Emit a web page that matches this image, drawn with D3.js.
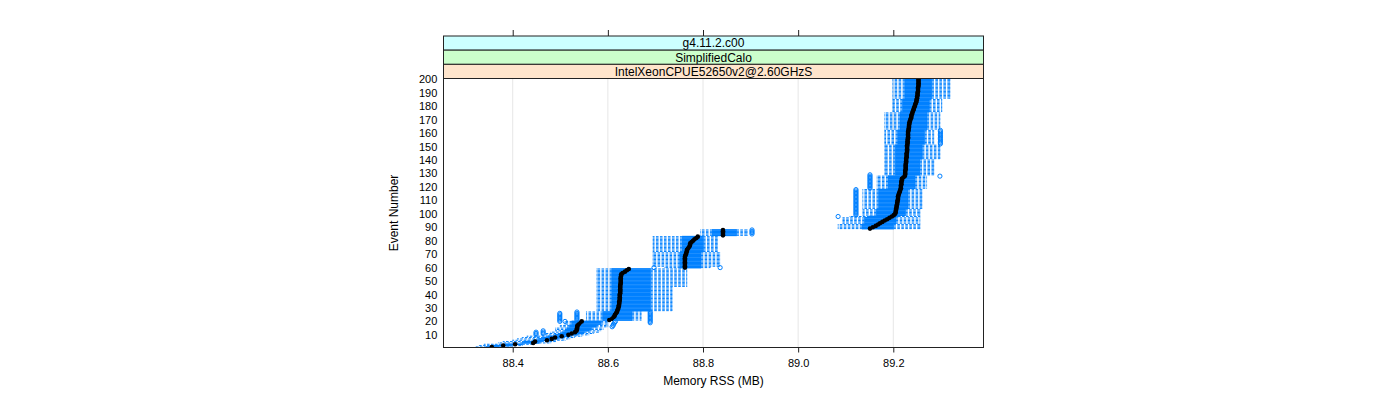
<!DOCTYPE html>
<html><head><meta charset="utf-8">
<script src="https://cdn.jsdelivr.net/npm/d3@7"></script>
<style>body{margin:0;background:#fff;} svg{display:block;font-family:"Liberation Sans",Arial,sans-serif;}</style>
</head><body><svg id="chart" width="1400" height="400"></svg>
<script>
// ---- data (Memory RSS in MB per event number 1..200) ----
const stripLabels = ["g4.11.2.c00", "SimplifiedCalo", "IntelXeonCPUE52650v2@2.60GHzS"];
const xTicks = [88.4, 88.6, 88.8, 89.0, 89.2];
const yTicks = [10,20,30,40,50,60,70,80,90,100,110,120,130,140,150,160,170,180,190,200];

const lowWhisker = [
88.323,88.330,88.340,88.370,88.380,88.400,88.410,88.420,88.430,88.460,
88.470,88.480,88.490,88.490,88.490,88.500,88.500,88.510,88.510,88.510,
88.555,88.555,88.555,88.555,88.555,88.555,88.555,88.577,88.577,88.577,
88.577,88.577,88.577,88.577,88.577,88.577,88.577,88.577,88.577,88.577,
88.577,88.577,88.577,88.577,88.577,88.577,88.577,88.577,88.577,88.577,
88.577,88.577,88.577,88.577,88.577,88.577,88.577,88.577,88.577,88.720,
88.695,88.695,88.695,88.695,88.695,88.695,88.695,88.695,88.695,88.695,
88.695,88.695,88.695,88.695,88.695,88.695,88.695,88.695,88.695,88.695,
88.695,88.695,88.695,88.795,88.795,88.795,88.795,88.795,89.084,89.084,
89.084,89.084,89.094,89.094,89.094,89.094,89.094,89.109,89.136,89.136,
89.136,89.136,89.136,89.136,89.136,89.136,89.136,89.136,89.136,89.136,
89.136,89.136,89.136,89.136,89.136,89.136,89.136,89.136,89.166,89.166,
89.166,89.166,89.166,89.166,89.166,89.166,89.166,89.166,89.182,89.182,
89.182,89.182,89.182,89.182,89.182,89.182,89.182,89.182,89.182,89.182,
89.182,89.182,89.182,89.182,89.182,89.182,89.182,89.182,89.182,89.182,
89.182,89.182,89.182,89.182,89.182,89.182,89.182,89.182,89.182,89.182,
89.182,89.182,89.182,89.182,89.182,89.182,89.182,89.182,89.182,89.182,
89.182,89.182,89.182,89.182,89.182,89.199,89.199,89.199,89.199,89.199,
89.199,89.199,89.199,89.199,89.199,89.199,89.199,89.199,89.199,89.199,
89.199,89.199,89.199,89.199,89.199,89.199,89.199,89.199,89.199,89.199];

const lowerQuartile = [
88.345,88.360,88.385,88.420,88.425,88.445,88.455,88.465,88.475,88.490,
88.500,88.505,88.510,88.515,88.515,88.520,88.520,88.525,88.525,88.525,
88.590,88.590,88.590,88.590,88.590,88.590,88.590,88.609,88.609,88.609,
88.609,88.609,88.609,88.609,88.609,88.609,88.609,88.609,88.609,88.609,
88.609,88.609,88.609,88.609,88.609,88.609,88.609,88.609,88.609,88.609,
88.609,88.609,88.609,88.609,88.609,88.609,88.609,88.609,88.609,88.752,
88.752,88.752,88.752,88.752,88.752,88.752,88.752,88.752,88.752,88.752,
88.752,88.757,88.757,88.757,88.757,88.757,88.757,88.757,88.757,88.757,
88.757,88.757,88.757,88.820,88.820,88.820,88.820,88.820,89.135,89.135,
89.135,89.135,89.140,89.140,89.140,89.140,89.140,89.150,89.165,89.165,
89.165,89.165,89.165,89.170,89.170,89.170,89.170,89.170,89.170,89.170,
89.170,89.170,89.170,89.170,89.170,89.170,89.170,89.170,89.190,89.190,
89.190,89.190,89.190,89.190,89.190,89.190,89.190,89.190,89.205,89.205,
89.205,89.205,89.205,89.205,89.205,89.205,89.205,89.205,89.205,89.205,
89.205,89.205,89.205,89.205,89.205,89.205,89.205,89.205,89.205,89.205,
89.205,89.210,89.210,89.210,89.210,89.210,89.210,89.210,89.210,89.210,
89.210,89.210,89.215,89.215,89.215,89.215,89.215,89.215,89.215,89.215,
89.215,89.215,89.215,89.215,89.215,89.220,89.220,89.220,89.220,89.220,
89.220,89.220,89.220,89.220,89.220,89.225,89.225,89.225,89.225,89.225,
89.225,89.225,89.225,89.225,89.225,89.225,89.225,89.225,89.225,89.225];

const medianRSS = [
88.356,88.380,88.405,88.443,88.447,88.472,88.482,88.489,88.503,88.517,
88.524,88.531,88.534,88.535,88.535,88.536,88.536,88.539,88.541,88.545,
88.603,88.609,88.612,88.614,88.615,88.617,88.619,88.620,88.621,88.622,
88.623,88.623,88.624,88.624,88.624,88.625,88.625,88.625,88.625,88.625,
88.626,88.626,88.626,88.626,88.626,88.626,88.626,88.627,88.627,88.627,
88.627,88.627,88.627,88.628,88.628,88.631,88.636,88.640,88.644,88.762,
88.762,88.762,88.762,88.762,88.762,88.762,88.762,88.762,88.763,88.764,
88.765,88.766,88.766,88.768,88.770,88.772,88.773,88.773,88.776,88.779,
88.782,88.786,88.789,88.842,88.842,88.842,88.842,88.842,89.151,89.157,
89.163,89.168,89.172,89.177,89.182,89.187,89.192,89.197,89.201,89.204,
89.205,89.205,89.206,89.206,89.207,89.207,89.208,89.208,89.209,89.209,
89.210,89.210,89.210,89.211,89.212,89.213,89.214,89.215,89.216,89.216,
89.216,89.217,89.217,89.217,89.218,89.218,89.221,89.224,89.225,89.225,
89.225,89.225,89.226,89.226,89.226,89.226,89.226,89.227,89.227,89.227,
89.227,89.228,89.228,89.228,89.228,89.229,89.229,89.229,89.229,89.229,
89.229,89.230,89.230,89.230,89.230,89.231,89.231,89.231,89.231,89.231,
89.231,89.232,89.232,89.233,89.233,89.233,89.234,89.234,89.235,89.236,
89.237,89.238,89.238,89.239,89.240,89.241,89.242,89.243,89.244,89.245,
89.246,89.247,89.248,89.249,89.249,89.250,89.250,89.251,89.251,89.251,
89.252,89.252,89.252,89.252,89.253,89.253,89.253,89.253,89.253,89.253];

const upperQuartile = [
88.370,88.395,88.420,88.455,88.460,88.485,88.495,88.505,88.520,88.535,
88.545,88.550,88.560,88.565,88.565,88.575,88.575,88.585,88.585,88.585,
88.650,88.650,88.650,88.650,88.650,88.650,88.650,88.689,88.689,88.689,
88.689,88.689,88.689,88.689,88.689,88.689,88.689,88.689,88.689,88.689,
88.689,88.689,88.689,88.689,88.689,88.689,88.689,88.689,88.689,88.689,
88.689,88.689,88.689,88.689,88.689,88.689,88.689,88.689,88.689,88.795,
88.795,88.795,88.795,88.795,88.795,88.795,88.795,88.795,88.795,88.795,
88.795,88.800,88.800,88.800,88.800,88.800,88.800,88.800,88.800,88.800,
88.800,88.800,88.800,88.870,88.870,88.870,88.870,88.870,89.200,89.200,
89.200,89.200,89.205,89.205,89.205,89.205,89.205,89.210,89.225,89.225,
89.225,89.225,89.225,89.230,89.230,89.230,89.230,89.230,89.230,89.230,
89.230,89.230,89.230,89.230,89.230,89.230,89.230,89.230,89.245,89.245,
89.245,89.245,89.245,89.245,89.245,89.245,89.245,89.245,89.255,89.255,
89.255,89.255,89.255,89.255,89.255,89.255,89.255,89.255,89.255,89.255,
89.260,89.260,89.260,89.260,89.260,89.260,89.260,89.260,89.260,89.260,
89.260,89.265,89.265,89.265,89.265,89.265,89.265,89.265,89.265,89.265,
89.265,89.265,89.270,89.270,89.270,89.270,89.270,89.270,89.270,89.270,
89.270,89.270,89.270,89.270,89.270,89.275,89.275,89.275,89.275,89.275,
89.275,89.275,89.275,89.275,89.275,89.280,89.280,89.280,89.280,89.280,
89.280,89.280,89.280,89.280,89.280,89.280,89.280,89.280,89.280,89.280];

const highWhisker = [
88.400,88.420,88.440,88.480,88.490,88.510,88.520,88.530,88.545,88.560,
88.570,88.580,88.585,88.590,88.590,88.600,88.600,88.600,88.600,88.600,
88.670,88.670,88.670,88.670,88.670,88.670,88.670,88.735,88.735,88.735,
88.735,88.735,88.735,88.735,88.735,88.735,88.735,88.735,88.735,88.735,
88.735,88.735,88.735,88.735,88.735,88.766,88.766,88.766,88.766,88.766,
88.766,88.766,88.766,88.766,88.766,88.766,88.766,88.766,88.766,88.815,
88.835,88.835,88.835,88.835,88.835,88.835,88.835,88.835,88.835,88.835,
88.835,88.830,88.830,88.830,88.830,88.830,88.830,88.830,88.830,88.830,
88.830,88.830,88.830,88.893,88.893,88.893,88.893,88.893,89.256,89.256,
89.256,89.256,89.256,89.256,89.256,89.256,89.256,89.256,89.256,89.256,
89.256,89.256,89.256,89.260,89.260,89.260,89.260,89.260,89.260,89.260,
89.260,89.260,89.260,89.260,89.260,89.260,89.260,89.260,89.270,89.270,
89.270,89.270,89.270,89.270,89.270,89.270,89.270,89.270,89.285,89.285,
89.285,89.285,89.285,89.285,89.285,89.285,89.285,89.285,89.285,89.285,
89.298,89.298,89.298,89.298,89.298,89.298,89.298,89.298,89.298,89.298,
89.298,89.285,89.285,89.285,89.285,89.285,89.285,89.285,89.285,89.285,
89.285,89.285,89.298,89.298,89.298,89.298,89.298,89.298,89.298,89.298,
89.298,89.298,89.298,89.298,89.298,89.302,89.302,89.302,89.302,89.302,
89.302,89.302,89.302,89.302,89.302,89.319,89.319,89.319,89.319,89.319,
89.319,89.319,89.319,89.319,89.319,89.319,89.319,89.319,89.319,89.319];

// outliers: [event number, RSS]
const outliers = [
[10,88.449],[11,88.449],[11,88.464],[12,88.449],[12,88.464],[13,88.464],
[16,88.609],[17,88.611],[18,88.612],[19,88.614],[20,88.616],[20,88.510],
[19,88.689],[20,88.689],[21,88.689],[22,88.689],[23,88.689],[24,88.689],[25,88.689],[26,88.689],[27,88.689],
[20,88.499],[21,88.499],[22,88.499],[23,88.499],[24,88.499],[25,88.499],[26,88.499],
[21,88.535],[22,88.535],[23,88.535],[24,88.535],[25,88.535],[26,88.535],[27,88.535],
[60,88.697],[60,88.836],
[85,88.903],[86,88.903],[87,88.903],[88,88.903],
[98,89.084],
[99,89.1215],[100,89.1215],[101,89.1215],[102,89.1215],[103,89.1215],[104,89.1215],[105,89.1215],
[106,89.1215],[107,89.1215],[108,89.1215],[109,89.1215],[110,89.1215],[111,89.1215],[112,89.1215],
[113,89.1215],[114,89.1215],[115,89.1215],[116,89.1215],[117,89.1215],[118,89.1215],
[119,89.151],[120,89.151],[121,89.151],[122,89.151],[123,89.151],[124,89.151],[125,89.151],
[126,89.151],[127,89.151],[128,89.151],[129,89.151],
[128,89.298],
[152,89.299],[153,89.299],[154,89.299],[155,89.299],[156,89.299],[157,89.299],[158,89.299],
[159,89.299],[160,89.299],[161,89.299],[162,89.299]
];

// ---- layout ----
const stripColors = ["#CCFFFF", "#CCFFCC", "#FFE5CC"];
const blue = "#0080ff";
const P = {left: 443.5, right: 983.5, top: 78.5, bottom: 347.5};
const stripTop = 36, stripH = (P.top - stripTop) / 3;

const svg = d3.select("#chart");
const x = d3.scaleLinear().domain([88.2545, 89.3896]).range([P.left, P.right]);
const y = d3.scaleLinear().domain([0.6, 200.6]).range([P.bottom, P.top]);

const rows = medianRSS.map((m, i) => ({
  ev: i + 1, lo: lowWhisker[i], q1: lowerQuartile[i], med: m, q3: upperQuartile[i], hi: highWhisker[i]
}));

svg.append("defs").append("clipPath").attr("id", "clip")
  .append("rect").attr("x", P.left).attr("y", P.top)
  .attr("width", P.right - P.left).attr("height", P.bottom - P.top);

// grid
svg.append("g").selectAll("line").data(xTicks).join("line")
  .attr("x1", d => x(d)).attr("x2", d => x(d))
  .attr("y1", P.top).attr("y2", P.bottom)
  .attr("stroke", "#e6e6e6").attr("stroke-width", 1);

const g = svg.append("g").attr("clip-path", "url(#clip)");
const bandH = Math.abs(y(1) - y(2));
const boxH = bandH * 0.5;

// boxes
g.append("g").selectAll("rect").data(rows).join("rect")
  .attr("x", d => x(d.q1)).attr("width", d => x(d.q3) - x(d.q1))
  .attr("y", d => y(d.ev) - boxH / 2).attr("height", boxH)
  .attr("fill", "none").attr("stroke", blue).attr("stroke-width", 1);

// whiskers (dashed)
const wh = g.append("g").attr("stroke", blue).attr("stroke-width", 1).attr("stroke-dasharray", "2.6,1.4");
wh.selectAll("line.l").data(rows).join("line").attr("class", "l")
  .attr("x1", d => x(d.q1)).attr("x2", d => x(d.lo))
  .attr("y1", d => y(d.ev)).attr("y2", d => y(d.ev));
wh.selectAll("line.h").data(rows).join("line").attr("class", "h")
  .attr("x1", d => x(d.q3)).attr("x2", d => x(d.hi))
  .attr("y1", d => y(d.ev)).attr("y2", d => y(d.ev));
wh.selectAll("line.el").data(rows).join("line").attr("class", "el")
  .attr("x1", d => x(d.lo)).attr("x2", d => x(d.lo))
  .attr("y1", d => y(d.ev) - boxH / 2).attr("y2", d => y(d.ev) + boxH / 2);
wh.selectAll("line.eh").data(rows).join("line").attr("class", "eh")
  .attr("x1", d => x(d.hi)).attr("x2", d => x(d.hi))
  .attr("y1", d => y(d.ev) - boxH / 2).attr("y2", d => y(d.ev) + boxH / 2);

// medians
g.append("g").selectAll("circle").data(rows).join("circle")
  .attr("cx", d => x(d.med)).attr("cy", d => y(d.ev)).attr("r", 2.3)
  .attr("fill", "#000");

// outliers
g.append("g").selectAll("circle").data(outliers).join("circle")
  .attr("cx", d => x(d[1])).attr("cy", d => y(d[0])).attr("r", 2.1)
  .attr("fill", "none").attr("stroke", blue).attr("stroke-width", 1);

// panel border
svg.append("rect").attr("x", P.left).attr("y", P.top)
  .attr("width", P.right - P.left).attr("height", P.bottom - P.top)
  .attr("fill", "none").attr("stroke", "#222").attr("stroke-width", 1);

// strips
stripLabels.forEach((lab, i) => {
  const sy = stripTop + i * stripH;
  svg.append("rect").attr("x", P.left).attr("y", sy).attr("width", P.right - P.left).attr("height", stripH)
    .attr("fill", stripColors[i]).attr("stroke", "#222").attr("stroke-width", 1);
  svg.append("text").attr("x", (P.left + P.right) / 2).attr("y", sy + stripH / 2)
    .attr("dy", "0.36em").attr("text-anchor", "middle").attr("font-size", 12).attr("fill", "#000").text(lab);
});

// bottom axis
const ax = svg.append("g").attr("transform", `translate(0,${P.bottom})`)
  .call(d3.axisBottom(x).tickValues(xTicks).tickFormat(d3.format(".1f")).tickSize(5).tickPadding(6.4));
ax.select(".domain").remove();
ax.selectAll("text").attr("font-size", 11).attr("font-family", "Liberation Sans, Arial, sans-serif").attr("fill", "#000");
ax.selectAll("line").attr("stroke", "#222");

// top axis (ticks only)
const at = svg.append("g").attr("transform", `translate(0,${stripTop})`)
  .call(d3.axisTop(x).tickValues(xTicks).tickFormat("").tickSize(6));
at.select(".domain").remove();
at.selectAll("line").attr("stroke", "#222");

// left axis
const ay = svg.append("g").attr("transform", `translate(${P.left},0)`)
  .call(d3.axisLeft(y).tickValues(yTicks).tickSize(0).tickPadding(6.2));
ay.select(".domain").remove();
ay.selectAll("text").attr("font-size", 11).attr("font-family", "Liberation Sans, Arial, sans-serif").attr("fill", "#000");

// axis titles
svg.append("text").attr("x", (P.left + P.right) / 2).attr("y", 384.5)
  .attr("text-anchor", "middle").attr("font-size", 12).attr("fill", "#000").text("Memory RSS (MB)");
svg.append("text").attr("transform", `translate(398,${(P.top + P.bottom) / 2}) rotate(-90)`)
  .attr("text-anchor", "middle").attr("font-size", 12).attr("fill", "#000").text("Event Number");
</script></body></html>
